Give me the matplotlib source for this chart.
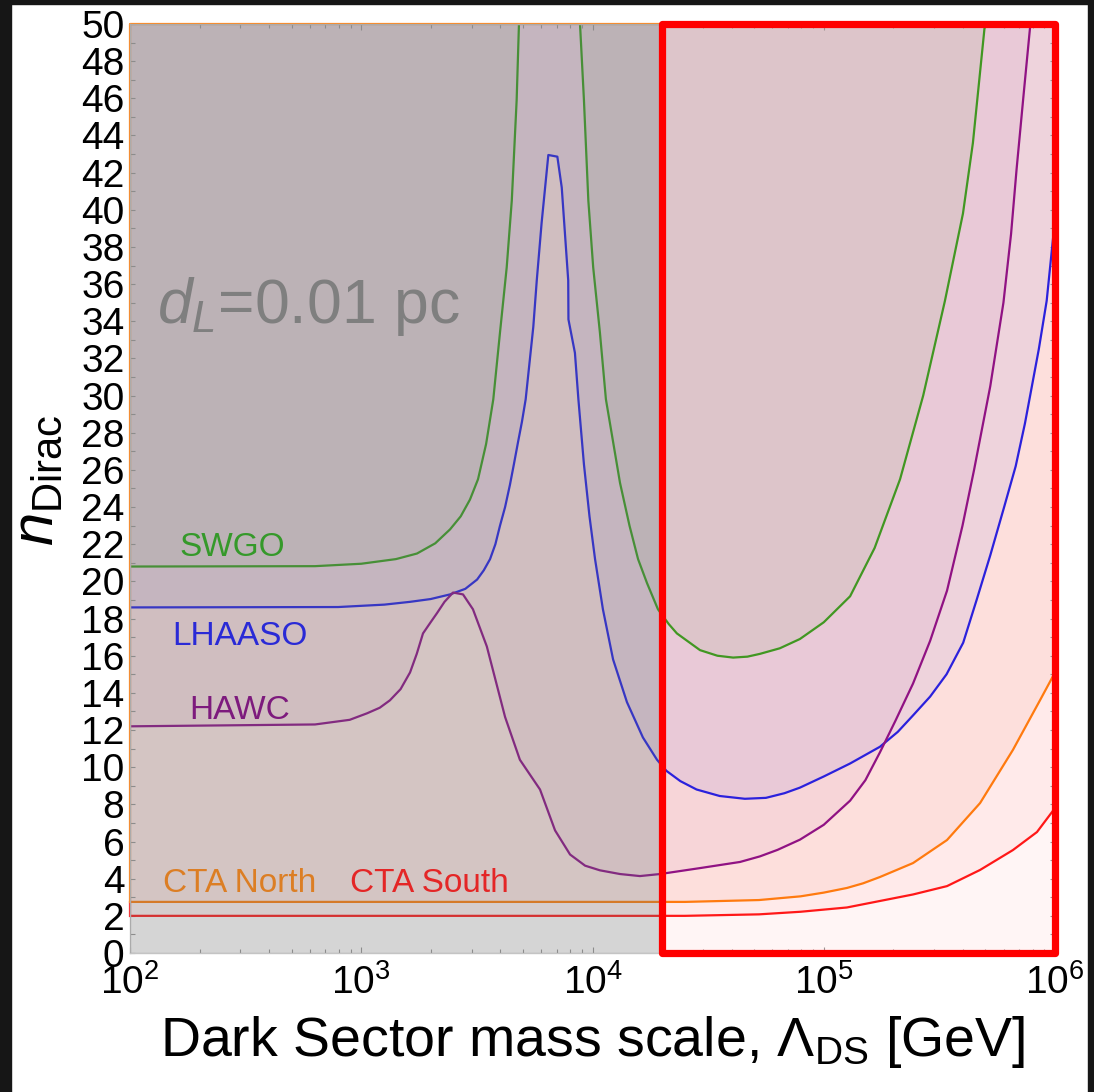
import matplotlib
matplotlib.use("Agg")
import matplotlib.pyplot as plt
from matplotlib.patches import Rectangle
from matplotlib.ticker import LogLocator, MultipleLocator, NullFormatter
import numpy as np

plt.rcParams["font.family"] = ["Liberation Sans", "DejaVu Sans"]
plt.rcParams["mathtext.fontset"] = "custom"
plt.rcParams["mathtext.rm"] = "Liberation Sans"
plt.rcParams["mathtext.it"] = "Liberation Sans:italic"
plt.rcParams["mathtext.bf"] = "Liberation Sans:bold"

# curves: log10(Lambda_DS / GeV) and n_Dirac
cta_south_log = [2.0, 4.40, 4.72, 4.90, 5.10, 5.243, 5.386, 5.533, 5.676, 5.818, 5.922, 6.0]
cta_south_n = [2.0, 2.0, 2.08, 2.22, 2.45, 2.80, 3.15, 3.60, 4.47, 5.54, 6.51, 7.8]

cta_north_log = [2.0, 4.40, 4.72, 4.90, 5.00, 5.10, 5.17, 5.243, 5.386, 5.533, 5.676,
                 5.818, 5.935, 6.0]
cta_north_n = [2.75, 2.75, 2.85, 3.05, 3.25, 3.50, 3.75, 4.09, 4.84, 6.08, 8.07,
               10.93, 13.6, 15.1]

lhaaso_log = [2.0, 2.9, 3.1, 3.211, 3.3, 3.384, 3.45, 3.501, 3.53, 3.557, 3.58,
              3.600, 3.622, 3.643, 3.66, 3.678, 3.695, 3.711,
              3.744, 3.759, 3.780, 3.809, 3.848, 3.867, 3.895, 3.896, 3.924, 3.939,
              3.963, 3.987, 4.011, 4.045, 4.089, 4.149, 4.218, 4.279, 4.32, 4.38,
              4.45, 4.55, 4.659, 4.75, 4.83, 4.897, 5.0, 5.114, 5.243, 5.32, 5.387,
              5.46, 5.531, 5.603, 5.661, 5.72, 5.78, 5.83, 5.87, 5.93, 5.964, 6.0]
lhaaso_n = [18.6, 18.62, 18.75, 18.9, 19.05, 19.3, 19.6, 20.1, 20.6, 21.2, 22.0,
            23.0, 24.0, 25.2, 26.3, 27.5, 28.6, 29.8,
            33.7, 36.2, 39.3, 42.95, 42.86, 41.2, 36.2, 34.1, 32.3, 29.8,
            26.3, 23.5, 21.2, 18.5, 15.8, 13.5, 11.6, 10.4, 9.8, 9.25,
            8.8, 8.45, 8.3, 8.35, 8.6, 8.9, 9.5, 10.2, 11.1, 11.9, 12.8,
            13.8, 15.0, 16.7, 19.0, 21.4, 24.0, 26.2, 28.5, 32.5, 35.1, 39.5]

hawc_log = [2.0, 2.8, 2.95, 3.025, 3.08, 3.124, 3.17, 3.211, 3.24, 3.267, 3.3,
            3.328, 3.36, 3.397, 3.440, 3.483, 3.543, 3.622, 3.686, 3.773, 3.838,
            3.903, 3.968, 4.032, 4.119, 4.205, 4.292, 4.465, 4.638, 4.724, 4.8,
            4.897, 5.0, 5.114, 5.18, 5.243, 5.31, 5.386, 5.46, 5.533, 5.6, 5.65,
            5.72, 5.777, 5.81, 5.834, 5.865, 5.892, 5.91]
hawc_n = [12.2, 12.3, 12.55, 12.9, 13.2, 13.6, 14.2, 15.1, 16.1, 17.2, 17.8,
          18.3, 18.9, 19.4, 19.3, 18.5, 16.5, 12.7, 10.4, 8.8, 6.6,
          5.3, 4.7, 4.45, 4.25, 4.14, 4.25, 4.57, 4.9, 5.2, 5.55,
          6.1, 6.9, 8.2, 9.3, 10.8, 12.5, 14.5, 16.8, 19.5, 23.0, 26.0,
          30.5, 35.0, 38.7, 42.2, 46.3, 49.8, 52.0]

swgo_log = [2.0, 2.8, 3.0, 3.15, 3.241, 3.32, 3.384, 3.43, 3.470, 3.505, 3.54,
            3.571, 3.600, 3.629, 3.651, 3.672, 3.682, 3.690, 3.940, 3.946, 3.963,
            3.982, 4.003, 4.032, 4.058, 4.119, 4.16, 4.197, 4.236, 4.283, 4.33,
            4.365, 4.465, 4.54, 4.608, 4.67, 4.724, 4.81, 4.897, 5.0, 5.114,
            5.22, 5.33, 5.43, 5.524, 5.602, 5.645, 5.697, 5.71]
swgo_n = [20.8, 20.82, 20.95, 21.2, 21.5, 22.05, 22.8, 23.5, 24.4, 25.5, 27.4,
          29.8, 33.4, 36.9, 40.5, 45.9, 50.0, 52.0, 52.0, 50.0, 45.9,
          40.5, 36.9, 33.4, 29.8, 25.3, 23.0, 21.2, 19.9, 18.5, 17.7,
          17.2, 16.3, 16.0, 15.9, 15.95, 16.1, 16.4, 16.9, 17.8, 19.2,
          21.8, 25.5, 30.0, 35.1, 39.8, 43.6, 50.0, 52.0]

curves = [
    ("CTA South", cta_south_log, cta_south_n, "#ff1a1a", (1.0, 0.0, 0.0), 0.045),
    ("CTA North", cta_north_log, cta_north_n, "#ff8010", (0.95, 0.55, 0.45), 0.10),
    ("LHAASO", lhaaso_log, lhaaso_n, "#2323e6", (0.2, 0.2, 0.86), 0.07),
    ("HAWC", hawc_log, hawc_n, "#8c1389", (0.5, 0.0, 0.5), 0.045),
    ("SWGO", swgo_log, swgo_n, "#3a9e24", (0.16, 0.63, 0.16), 0.065),
]

labels = ["SWGO", "LHAASO", "HAWC", "CTA North", "CTA South"]
label_x = [277, 299, 297, 297, 1980]
label_n = [21.37, 16.58, 12.6, 3.28, 3.28]
label_colors = ["#35992a", "#2a2ad6", "#7d1a7d", "#dc7e24", "#e42626"]

box_lo, box_hi = 2e4, 1e6

fig = plt.figure(figsize=(10.94, 10.92), dpi=100)
ax = fig.add_axes([130 / 1094, 139 / 1092, 925 / 1094, 929 / 1092])
ax.set_xscale("log")
ax.set_xlim(1e2, 1e6)
ax.set_ylim(0, 50)

for name, lx, ny, line_color, fill_color, fill_alpha in curves:
    x = 10 ** np.array(lx)
    ax.fill_between(x, ny, 50, color=fill_color, alpha=fill_alpha, lw=0, zorder=1)
for name, lx, ny, line_color, fill_color, fill_alpha in curves:
    ax.plot(10 ** np.array(lx), ny, color=line_color, lw=1.6, zorder=2,
            solid_joinstyle="round")

# polygon edges of the filled regions along the left and top frame
ax.plot([1e2, 1e2], [cta_south_n[0], cta_north_n[0]], color="#ff1a1a", lw=1.6,
        clip_on=False, zorder=2)
ax.plot([1e2, 1e2, 1e6], [cta_north_n[0], 50, 50], color="#ff8010", lw=1.6,
        clip_on=False, zorder=2)

# grey veil on the left part, light red tint inside the box
ax.add_patch(Rectangle((1e2, 0), box_lo - 1e2, 50, facecolor=(0.42, 0.42, 0.42),
                       alpha=0.28, lw=0, zorder=2.6))
ax.add_patch(Rectangle((box_lo, 0), box_hi - box_lo, 50, facecolor="red",
                       alpha=0.04, lw=0, zorder=2.6))
ax.add_patch(Rectangle((box_lo, 0), box_hi - box_lo, 50, fill=False,
                       edgecolor="#ff0000", lw=5.2, joinstyle="round",
                       clip_on=False, zorder=5))

for text, tx, tn, tc in zip(labels, label_x, label_n, label_colors):
    ax.text(tx, tn, text, color=tc, fontsize=24, ha="center", va="baseline",
            zorder=4)
ax.text(590, 33.9, r"$d_L$=0.01 pc", color="#7f7f7f", fontsize=45,
        ha="center", va="baseline", zorder=4)

ax.yaxis.set_major_locator(MultipleLocator(2))
ax.yaxis.set_minor_locator(MultipleLocator(1))
ax.xaxis.set_major_locator(LogLocator(base=10, numticks=10))
ax.xaxis.set_minor_locator(LogLocator(base=10, subs=np.arange(2, 10), numticks=20))
ax.xaxis.set_minor_formatter(NullFormatter())
ax.tick_params(which="both", direction="in", top=True, right=True,
               color="#9a9a9a", width=0.8, labelsize=28)
ax.tick_params(which="major", length=4.5)
ax.tick_params(which="minor", length=3)
ax.tick_params(axis="y", which="both", length=3.5, pad=4)
ax.tick_params(axis="x", which="major", pad=8)
for spine in ax.spines.values():
    spine.set_color("#c4c4c4")
    spine.set_linewidth(1.0)

ax.set_xlabel(r"Dark Sector mass scale, Λ$_{\mathrm{DS}}$ [GeV]", fontsize=40,
              labelpad=9)
ax.set_ylabel(r"$n_{\mathrm{Dirac}}$", fontsize=43)
ax.yaxis.set_label_coords(-0.071, 0.509)

# dark screenshot border
for rect in [(0, 0, 11 / 1094, 1), (0, 1 - 4 / 1092, 1, 4 / 1092),
             (1 - 6 / 1094, 0, 6 / 1094, 1)]:
    fig.patches.append(Rectangle(rect[:2], rect[2], rect[3], color="#161616",
                                 transform=fig.transFigure, figure=fig, zorder=10))

fig.savefig("out.png", dpi=100)
